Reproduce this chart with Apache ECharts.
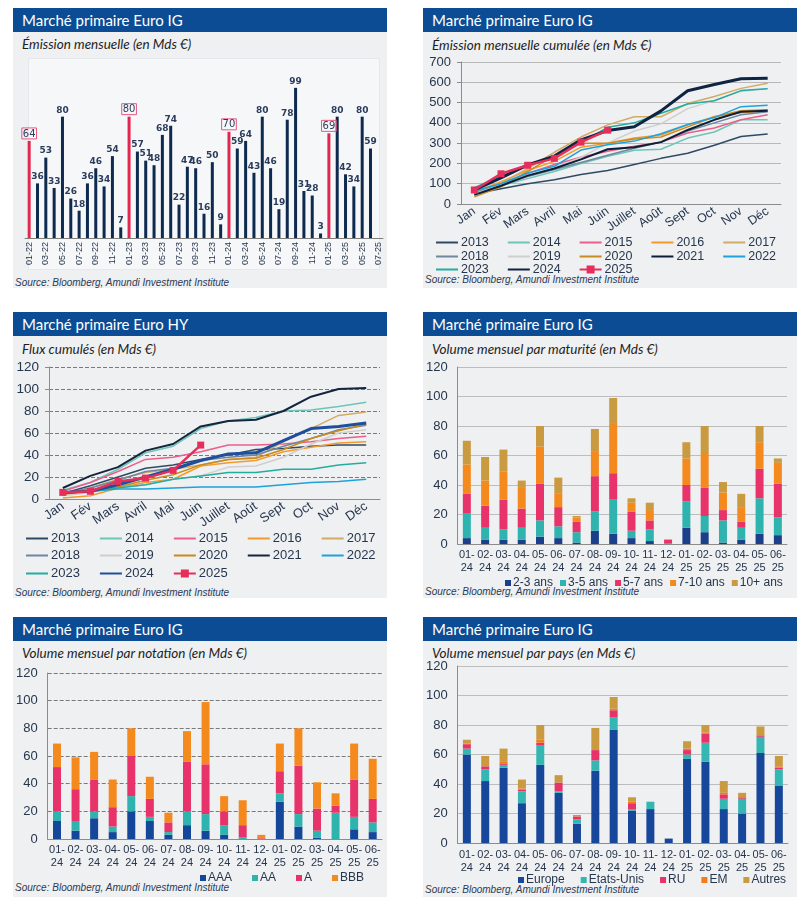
<!DOCTYPE html>
<html><head><meta charset="utf-8">
<script src="https://cdn.jsdelivr.net/npm/echarts@6/dist/echarts.min.js"></script>
<style>
body{margin:0;background:#fff;width:800px;height:901px;position:relative;overflow:hidden;}
.panel{position:absolute;background:#eff0f2;}
.hdr{position:absolute;background:#0b4c94;color:#fff;font-family:Lato,'Open Sans',sans-serif;font-size:15px;line-height:24px;height:24px;padding-left:9px;box-sizing:border-box;white-space:nowrap;}
.sub{position:absolute;font-family:Lato,'Open Sans',sans-serif;font-style:italic;font-size:13.5px;color:#1e1e1e;line-height:18px;white-space:nowrap;}
.src{position:absolute;font-family:'Liberation Sans',Arial,sans-serif;font-style:italic;font-size:10px;color:#2a3a55;line-height:12px;white-space:nowrap;}
.frame{position:absolute;background:#f6f7f8;border:1px solid #e6e8eb;}
.chart{position:absolute;}
</style></head>
<body>
<script>
// ---------- DATA ----------
const monthLabels = ['01-22','02-22','03-22','04-22','05-22','06-22','07-22','08-22','09-22','10-22','11-22','12-22',
  '01-23','02-23','03-23','04-23','05-23','06-23','07-23','08-23','09-23','10-23','11-23','12-23',
  '01-24','02-24','03-24','04-24','05-24','06-24','07-24','08-24','09-24','10-24','11-24','12-24',
  '01-25','02-25','03-25','04-25','05-25','06-25','07-25'];
const monthlyIssuance = [64,36,53,33,80,26,18,36,46,34,54,7,
  80,57,51,48,68,74,22,47,46,16,50,9,
  70,59,64,43,80,46,19,78,99,31,28,3,
  69,80,42,34,80,59,null];

const monthsFr = ['Jan','Fév','Mars','Avril','Mai','Juin','Juillet','Août','Sept','Oct','Nov','Déc'];
const yearNames = ['2013','2014','2015','2016','2017','2018','2019','2020','2021','2022','2023','2024','2025'];

const ig2013 = [50,75,100,120,145,165,195,225,250,290,333,345];
const ig2014 = [55,90,125,160,200,235,265,270,325,355,415,415];
const ig2015 = [60,100,150,195,230,260,285,305,350,375,415,440];
const ig2016 = [60,110,165,210,280,300,325,340,390,430,450,460];
const ig2017 = [45,100,175,255,330,390,430,430,495,530,570,595];
const ig2018 = [55,95,135,170,205,240,275,305,360,400,440,455];
const ig2019 = [50,95,140,180,230,300,360,395,470,510,555,570];
const ig2020 = [35,85,160,240,300,300,320,330,380,430,460,465];
const ig2021 = [45,90,140,175,220,270,280,305,365,415,455,460];
const ig2022 = [64,100,153,186,266,292,310,346,392,426,480,487];
const ig2023 = [80,137,188,236,304,378,400,447,493,509,559,568];
const ig2024 = [70,129,193,236,316,362,381,459,558,589,617,620];
const ig2025 = [69,149,191,225,305,364];

const hy2013 = [5,12,20,28,31,36,40,45,46,48,49,49];
const hy2014 = [8,15,27,42,48,64,71,74,80,81,84,88];
const hy2015 = [7,15,25,36,38,43,49,49,50,52,55,57];
const hy2016 = [1,3,10,15,18,30,33,35,43,47,51,52];
const hy2017 = [4,10,18,24,27,31,36,38,52,64,76,79];
const hy2018 = [5,10,17,25,28,35,38,40,48,55,63,67];
const hy2019 = [3,6,10,13,18,21,29,30,38,50,60,63];
const hy2020 = [4,8,11,17,22,31,36,37,45,55,62,68];
const hy2021 = [10,21,29,44,50,66,71,72,80,93,100,101];
const hy2022 = [6,7,9,9,10,11,11,11,13,15,16,18];
const hy2023 = [5,7,10,13,18,21,24,24,27,27,31,33];
const hy2024 = [6,7,13,20,27,35,41,42,53,64,66,69];
const hy2025 = [6,7,16,19,26,49];

const barMonths = ['01-24','02-24','03-24','04-24','05-24','06-24','07-24','08-24','09-24','10-24','11-24','12-24',
  '01-25','02-25','03-25','04-25','05-25','06-25'];

const maturityNames = ['2-3 ans','3-5 ans','5-7 ans','7-10 ans','10+ ans'];
const mat23  = [4,3,3,3,5,4,1,9,7,4,2,0.3,11,8,1,3,7,6];
const mat35  = [17,8,7,8,11,8,7,13,23,5,8,0.2,18,11,15,8,24,12];
const mat57  = [13,15,20,13,25,13,7,24,18,13,6,2.5,11,19,7,4,20,23];
const mat710 = [20,17,19,14,25,9,3,17,34,6,7,0,18,23,12,10,18,14];
const mat10p = [16,16,15,5,14,11,1,15,17,3,5,0,11,19,7,9,11,3];

const ratingNames = ['AAA','AA','A','BBB'];
const rAAA = [13,6,15,5,20,13,3,10,6,3,0,0,27,9,1,0,7,5];
const rAA  = [7,7,5,4,11,3,2,10,12,7,1,0,6,9,5,19,9,7];
const rA   = [32,23,23,14,29,13,7,36,36,10,9,0.5,16,35,16,5,27,17];
const rBBB = [17,23,20,20,20,16,7,22,45,11,18,2.5,20,27,19,9,26,29];

const countryNames = ['Europe','Etats-Unis','RU','EM','Autres'];
const cEurope = [60,42,51,27,53,34,13,49,77,22,23,3,57,55,23,20,61,39];
const cUS     = [4,8,2,8,13,1,3,7,8,1,5,0,3,13,7,10,11,11];
const cUK     = [3,2,1,1,2,6,2,7,5,4,0,0,3,6,3,1,1,1];
const cEM     = [0.5,0,1,1,2,0,0,0,1,1,0,0,1,1,1,0,0,1];
const cOther  = [2.5,7,9,6,10,5,1,15,8,3,0,0,5,5,8,3,6,7];

// ---------- LAYOUT (HTML frames) ----------
const panels = [
  {x:13, y:8,   h:280, title:'Marché primaire Euro IG', sub:'Émission mensuelle (en Mds €)', subY:35, srcY:277},
  {x:423,y:8,   h:280, title:'Marché primaire Euro IG', sub:'Émission mensuelle cumulée (en Mds €)', subY:36, srcY:274},
  {x:13, y:312, h:286, title:'Marché primaire Euro HY', sub:'Flux cumulés (en Mds €)', subY:340, srcY:587},
  {x:423,y:312, h:286, title:'Marché primaire Euro IG', sub:'Volume mensuel par maturité (en Mds €)', subY:340, srcY:586},
  {x:13, y:617, h:280, title:'Marché primaire Euro IG', sub:'Volume mensuel par notation (en Mds €)', subY:644, srcY:882},
  {x:423,y:617, h:280, title:'Marché primaire Euro IG', sub:'Volume mensuel par pays (en Mds €)', subY:644, srcY:884}
];
const W = 374;
function el(cls, css, text){const d=document.createElement('div');d.className=cls;Object.assign(d.style,css);if(text)d.textContent=text;document.body.appendChild(d);return d;}
panels.forEach(p=>{
  el('panel',{left:p.x+'px',top:p.y+'px',width:W+'px',height:p.h+'px'});
  el('hdr',{left:p.x+'px',top:p.y+'px',width:W+'px'},p.title);
});
el('frame',{left:'28px',top:'58px',width:'350px',height:'210px'});
panels.forEach(p=>{
  el('sub',{left:(p.x+9)+'px',top:p.subY+'px'},p.sub);
  el('src',{left:(p.x+2)+'px',top:p.srcY+'px'},'Source: Bloomberg, Amundi Investment Institute');
});
function mkChart(x,y,h){const d=el('chart',{left:x+'px',top:y+'px',width:W+'px',height:h+'px'});return echarts.init(d,null,{renderer:'canvas'});}

const TXT = '#26364d';
const FONT = 'Liberation Sans';
const AXC = '#8c8c8c';

// ---------- Panel 1 ----------
mkChart(13,32,256).setOption({
  animation:false,
  grid:{left:12,right:4,top:24,bottom:50},
  xAxis:{type:'category',data:monthLabels,
    axisLine:{lineStyle:{color:'#7f7f7f'}},
    axisTick:{alignWithLabel:true,length:3,lineStyle:{color:'#7f7f7f'}},
    axisLabel:{rotate:90,interval:1,fontSize:9,color:TXT,margin:4,fontFamily:FONT}},
  yAxis:{type:'value',min:0,max:120,show:false},
  series:[{type:'bar',barWidth:3,
    data:monthlyIssuance.map((v,i)=>{
      const jan = monthLabels[i].startsWith('01-');
      return jan ? {value:v,itemStyle:{color:'#e3264f'},label:{borderColor:'#e8577f',borderWidth:1,padding:[1,1,0,1],fontSize:10,fontWeight:'normal',color:'#2b3d5c'}} : {value:v};
    }),
    itemStyle:{color:'#0e2a4f'},
    label:{show:true,position:'top',distance:2,fontSize:9,fontWeight:'bold',color:'#2b3d5c',fontFamily:'DejaVu Sans'}}]
});

// ---------- Panels 2 and 3 (lines) ----------
const igSeries = [ig2013,ig2014,ig2015,ig2016,ig2017,ig2018,ig2019,ig2020,ig2021,ig2022,ig2023,ig2024,ig2025];
const hySeries = [hy2013,hy2014,hy2015,hy2016,hy2017,hy2018,hy2019,hy2020,hy2021,hy2022,hy2023,hy2024,hy2025];
const yearColors = ['#2f4a64','#6cc5b8','#ec5f8a','#f39a2a','#d3aa66','#6f879f','#cfcfcf','#c98a1f','#0d1f36','#1da2dc','#22ad9e','#0f2342','#e62e5c'];
const yearWidths = [1.5,1.5,1.5,1.5,1.5,1.5,1.5,1.5,2,1.5,1.5,3,2.5];

function lineOption(dataList, colors, max, interval, grid, legendTops, legendLeft, legendGap, fs, dashed){
  const rows = [yearNames.slice(0,5),yearNames.slice(5,10),yearNames.slice(10)];
  return {
    animation:false,
    grid:grid,
    legend:rows.map((r,i)=>({
      data:r.map(n=>n==='2025'?{name:n}:{name:n,itemStyle:{opacity:0}}),
      left:legendLeft,top:legendTops[i],padding:0,itemWidth:22,itemHeight:10,itemGap:legendGap,
      textStyle:{fontSize:fs,color:TXT,fontFamily:FONT,padding:[0,0,0,-2]}})),
    xAxis:{type:'category',data:monthsFr,
      axisLine:{lineStyle:{color:AXC}},axisTick:{length:5,lineStyle:{color:AXC}},
      axisLabel:{rotate:35,interval:0,fontSize:fs,color:TXT,margin:6,fontFamily:FONT}},
    yAxis:{type:'value',min:0,max:max,interval:interval,
      axisLine:{show:true,lineStyle:{color:AXC}},axisTick:{show:true,length:4,lineStyle:{color:AXC}},
      splitLine:{lineStyle:{color:dashed?'#7a7a7a':'#b8b8b8',type:dashed?'dashed':'solid'}},
      axisLabel:{fontSize:fs+0.5,color:TXT,margin:10,fontFamily:FONT}},
    series:dataList.map((d,i)=>({type:'line',name:yearNames[i],data:d,
      symbol:i===12?'rect':'none',symbolSize:7,showSymbol:i===12,
      lineStyle:{color:colors[i],width:yearWidths[i]},itemStyle:{color:colors[i]}}))
  };
}
mkChart(423,32,256).setOption(lineOption(igSeries, yearColors, 700, 100,
  {left:38,right:16,top:30,bottom:84}, [204,218,231], 12, 18, 12.5, false));

const hyColors = yearColors.slice(); hyColors[11] = '#1f4e9c'; hyColors[8] = '#14253f';
mkChart(13,336,262).setOption(lineOption(hySeries, hyColors, 120, 20,
  {left:36,right:7,top:31,bottom:99}, [196,213,231], 12, 19, 13, true));

// ---------- Panels 4, 5, 6 (stacked bars) ----------
function barOption(names, datas, colors, grid, legendLeft, legendTop, legendGap, dashed, labelMargin){
  return {
    animation:false,
    grid:grid,
    legend:{data:names,left:legendLeft,top:legendTop,padding:0,icon:'rect',itemWidth:6,itemHeight:6,itemGap:legendGap,
      textStyle:{fontSize:12,color:TXT,fontFamily:FONT,padding:[0,0,0,-3]}},
    xAxis:{type:'category',data:barMonths,
      axisLine:{lineStyle:{color:AXC}},axisTick:{length:4,lineStyle:{color:AXC}},
      axisLabel:{fontSize:11,color:TXT,margin:labelMargin,lineHeight:13.5,fontFamily:FONT,interval:0,
        formatter:v=>v.replace('-','-\n')}},
    yAxis:{type:'value',min:0,max:120,interval:20,
      axisLine:{show:true,lineStyle:{color:AXC}},axisTick:{show:false},
      splitLine:{lineStyle:{color:dashed?'#7a7a7a':'#bdbdbd',type:dashed?'dashed':'solid'}},
      axisLabel:{fontSize:13,color:TXT,margin:10,fontFamily:FONT}},
    series:names.map((n,k)=>({type:'bar',name:n,stack:'t',barWidth:8,data:datas[k],itemStyle:{color:colors[k]}}))
  };
}
mkChart(423,336,262).setOption(barOption(maturityNames,[mat23,mat35,mat57,mat710,mat10p],
  ['#1b3f8b','#2fb3ae','#e8336a','#f48a1e','#c99a40'],
  {left:31,right:10,top:31,bottom:54}, 82, 241, 7, false, 4));
mkChart(13,641,256).setOption(barOption(ratingNames,[rAAA,rAA,rA,rBBB],
  ['#14479a','#2fb3ae','#e8336a','#f48a1e'],
  {left:33,right:5,top:32,bottom:58}, 187, 231, 20, true, 4));
mkChart(423,641,256).setOption(barOption(countryNames,[cEurope,cUS,cUK,cEM,cOther],
  ['#16479a','#34b7b3','#e8336a','#f47a1c','#c99a40'],
  {left:31,right:9,top:25,bottom:54}, 95, 233, 16, false, 5));
</script>
</body></html>
